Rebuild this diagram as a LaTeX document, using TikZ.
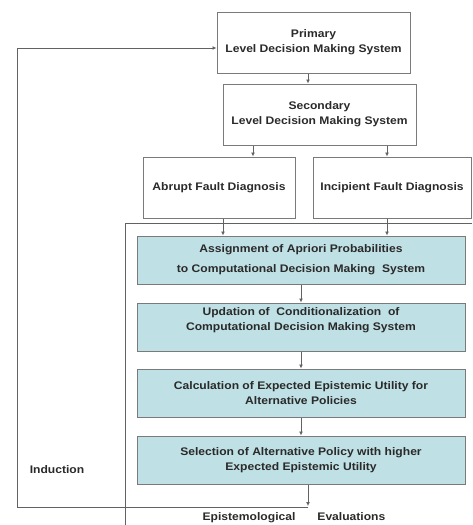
\documentclass[tikz,border=0pt]{standalone}
\usepackage{fontspec}
\setmainfont[FakeStretch=1.1]{Liberation Sans}
\usetikzlibrary{arrows.meta,positioning}
\definecolor{boxline}{HTML}{7A7A7A}
\definecolor{boxfill}{HTML}{BFE0E4}
\definecolor{inktext}{HTML}{2A2A2A}
\tikzset{
    flowbox/.style={draw=boxline, line width=1pt, align=center,
        font=\fontsize{11}{15}\selectfont\bfseries, text=inktext,
        minimum height=61pt, inner sep=2pt},
    stagebox/.style={flowbox, fill=boxfill, minimum width=328pt, minimum height=48pt},
    flow/.style={draw=boxline!80!black, line width=0.9pt, -{Latex[length=4pt,width=4pt]}},
    plain/.style={draw=boxline!80!black, line width=0.9pt},
    tag/.style={font=\fontsize{11}{13}\selectfont\bfseries, text=inktext}
}
\begin{document}
\begin{tikzpicture}[x=1pt, y=-1pt]
    \useasboundingbox (0,0) rectangle (472,525);
    % decision levels
    \node[flowbox, minimum width=193pt] (primary) at (313.5,42.5)
        {Primary\\Level Decision Making System};
    \node[flowbox, minimum width=193pt] (secondary) at (319.5,114.5)
        {Secondary\\Level Decision Making System};
    \node[flowbox, minimum width=152pt] (abrupt) at (219,187.5)
        {Abrupt Fault Diagnosis};
    \node[flowbox, minimum width=158pt] (incipient) at (392,187.5)
        {Incipient Fault Diagnosis};
    % computational stages
    \node[stagebox] (assign) at (301,260)
        {Assignment of Apriori Probabilities\\[5pt]to Computational Decision Making~ System};
    \node[stagebox] (update) at (301,327)
        {Updation of~ Conditionalization~ of\\Computational Decision Making System\\};
    \node[stagebox] (calc) at (301,393)
        {Calculation of Expected Epistemic Utility for\\Alternative Policies};
    \node[stagebox] (select) at (301,460)
        {Selection of Alternative Policy with higher\\Expected Epistemic Utility};
    \coordinate (evalpt) at (308,506);
    \coordinate (loopcorner) at (17,507);
    % frame round the stages
    \draw[plain] (125,525) -- (125,223) -- (472,223);
    % connectors
    \draw[flow] ([xshift=-5.5pt]primary.south) -- ([xshift=-5.5pt]primary.south |- secondary.north);
    \draw[flow] ([xshift=34pt]abrupt.north |- secondary.south) -- ([xshift=34pt]abrupt.north);
    \draw[flow] ([xshift=-5pt]incipient.north |- secondary.south) -- ([xshift=-5pt]incipient.north);
    \draw[flow] ([xshift=4pt]abrupt.south) -- ([xshift=4pt]abrupt.south |- assign.north);
    \draw[flow] ([xshift=-5pt]incipient.south) -- ([xshift=-5pt]incipient.south |- assign.north);
    \draw[flow] (assign) -- (update);
    \draw[flow] (update) -- (calc);
    \draw[flow] (calc) -- (select);
    \draw[flow] (select.south -| evalpt) -- (evalpt);
    \draw[flow] (evalpt |- loopcorner) -- (loopcorner) -- (loopcorner |- 0,48)
        -- (primary.west |- 0,48);
    % labels
    \node[tag] (induction) at (57,470) {Induction};
    \node[tag] (evaluations) at (294,518) {Epistemological\hspace{2em}Evaluations};
\end{tikzpicture}
\end{document}
